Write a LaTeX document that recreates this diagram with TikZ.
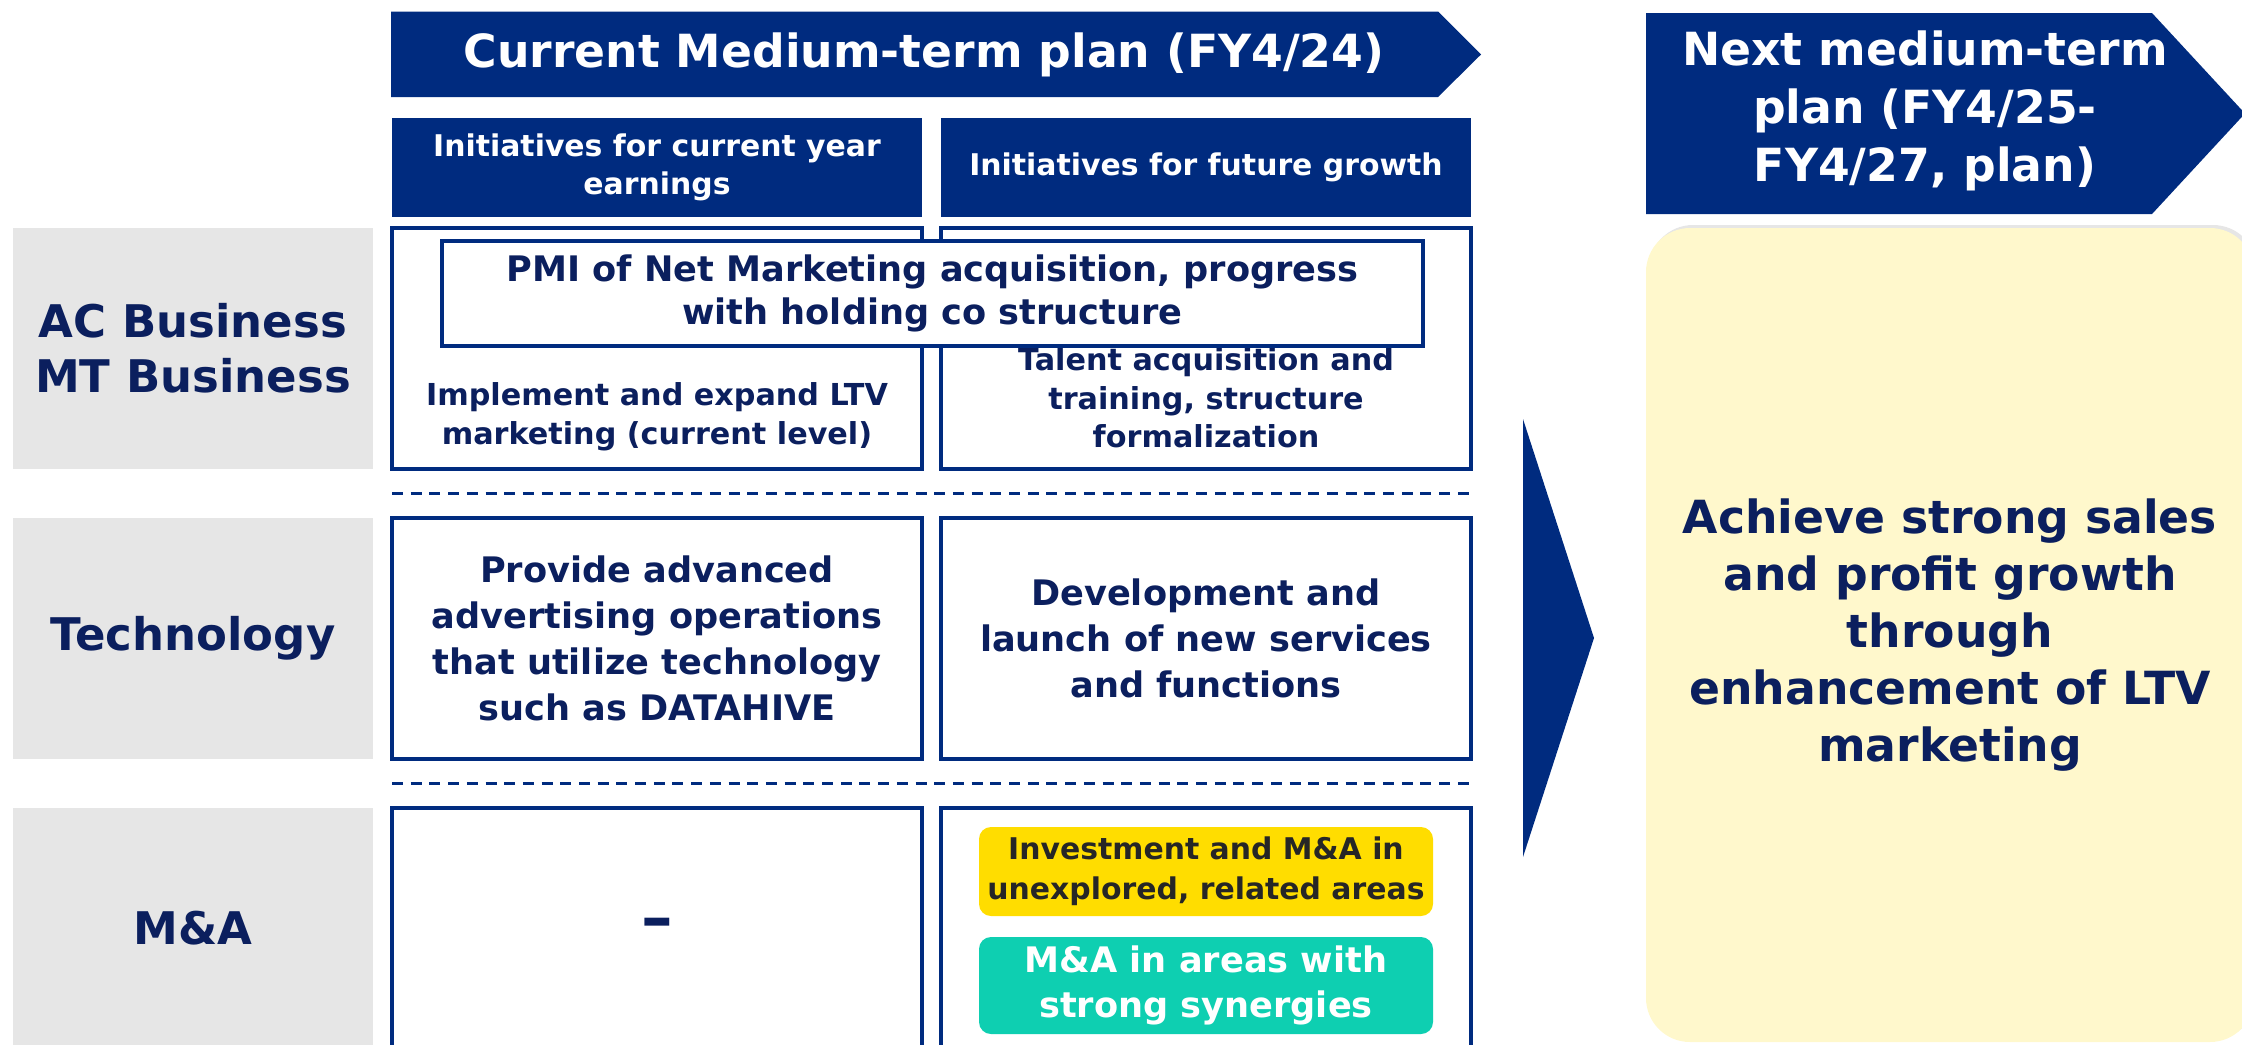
\documentclass[tikz,border=0pt]{standalone}
\usepackage{fontspec}
\setmainfont{DejaVu Sans}
\usetikzlibrary{positioning}
\usetikzlibrary{shadows}

\definecolor{navy}{HTML}{002B7F}
\definecolor{navytxt}{HTML}{0B1F5E}
\definecolor{rowgray}{HTML}{E6E6E6}
\definecolor{paleyellow}{HTML}{FFF8CC}
\definecolor{goldyellow}{HTML}{FFDD00}
\definecolor{mint}{HTML}{0ECFB1}

\begin{document}
\begin{tikzpicture}[font=\bfseries,
	rowlbl/.style={fill=rowgray,minimum width=3.60cm,minimum height=2.41cm,inner sep=0pt,outer sep=0pt,align=center,text=navytxt,font=\fontsize{12.8}{15.6}\selectfont\bfseries},
	cell/.style={draw=navy,line width=1pt,fill=white,minimum width=5.30cm,minimum height=2.41cm,inner sep=0pt,outer sep=0pt,align=center,text=navytxt,font=\fontsize{10}{13.1}\selectfont\bfseries},
	hdr/.style={fill=navy,minimum width=5.30cm,minimum height=0.99cm,inner sep=0pt,outer sep=0pt,align=center,text=white,font=\fontsize{8.5}{10.8}\selectfont\bfseries},
	smalltxt/.style={align=center,text=navytxt,inner sep=0pt,font=\fontsize{8.6}{11}\selectfont\bfseries},
	tag/.style={rounded corners=0.12cm,minimum width=4.54cm,inner sep=0pt,outer sep=0pt,align=center},
	sep/.style={navy,line width=0.85pt,dash pattern=on 0.11cm off 0.077cm}]
	\useasboundingbox (0,0) rectangle (22.42,-10.44);
	\clip (0,0) rectangle (22.42,-10.44);

	% current plan banner
	\fill[navy] (3.91,-0.115) -- (14.38,-0.115) -- (14.81,-0.545) -- (14.38,-0.97) -- (3.91,-0.97) -- cycle;
	\node [text=white,font=\fontsize{13}{16}\selectfont\bfseries] at (9.24,-0.545) (cur_plan_txt) {Current Medium-term plan (FY4/24)};

	% row labels and cells
	\node [rowlbl] at (1.93,-3.485) (row_ac) {AC Business\\MT Business};
	\node [cell,right=0.19cm of row_ac] (cur_ac) {};
	\node [cell,right=0.19cm of cur_ac] (fut_ac) {};

	\node [rowlbl,below=0.49cm of row_ac] (row_tech) {Technology};
	\node [cell,right=0.19cm of row_tech] (cur_tech) {Provide advanced\\advertising operations\\that utilize technology\\such as DATAHIVE};
	\node [cell,right=0.19cm of cur_tech] (fut_tech) {Development and\\launch of new services\\and functions};

	\node [rowlbl,below=0.49cm of row_tech] (row_ma) {M\&A};
	\node [cell,right=0.19cm of row_ma,font=\fontsize{18}{20}\selectfont\bfseries] (cur_ma) {\raisebox{-0.5ex}{–}};
	\node [cell,right=0.19cm of cur_ma] (fut_ma) {};

	% column headers
	\node [hdr,above=0.11cm of cur_ac] (hdr_cur) {Initiatives for current year\\earnings};
	\node [hdr,above=0.11cm of fut_ac] (hdr_fut) {Initiatives for future growth};

	\draw [sep] ([yshift=-0.24cm]cur_ac.south west) -- ([yshift=-0.24cm]fut_ac.south east);
	\draw [sep] ([yshift=-0.24cm]cur_tech.south west) -- ([yshift=-0.24cm]fut_tech.south east);

	% row 1 texts, PMI box on top
	\node [smalltxt] at ([yshift=0.52cm]cur_ac.south) (cur_ac_txt) {Implement and expand LTV\\marketing (current level)};
	\node [smalltxt] at ([yshift=0.71cm]fut_ac.south) (fut_ac_txt) {Talent acquisition and\\training, structure\\formalization};
	\node [draw=navy,line width=1pt,fill=white,minimum width=9.81cm,minimum height=1.05cm,inner sep=0pt,align=center,text=navytxt,font=\fontsize{10}{12.3}\selectfont\bfseries] at (9.325,-2.935) (pmi_box) {PMI of Net Marketing acquisition, progress\\with holding co structure};

	% M&A tags
	\node [tag,fill=goldyellow,minimum height=0.89cm,text=black!85,font=\fontsize{8.5}{11.4}\selectfont\bfseries,below=0.19cm of fut_ma.north] (inv_tag) {Investment and M\&A in\\unexplored, related areas};
	\node [tag,fill=mint,minimum height=0.97cm,text=white,font=\fontsize{10}{13}\selectfont\bfseries,below=0.21cm of inv_tag] (syn_tag) {M\&A in areas with\\strong synergies};

	% big arrow
	\fill[navy] (15.23,-4.19) -- (15.94,-6.38) -- (15.23,-8.57) -- cycle;

	% next plan
	\fill[navy] (16.46,-0.13) -- (21.52,-0.13) -- (22.45,-1.135) -- (21.52,-2.14) -- (16.46,-2.14) -- cycle;
	\node [text=white,align=center,font=\fontsize{13}{16.5}\selectfont\bfseries] at (19.25,-1.11) (next_plan_txt) {Next medium-term\\plan (FY4/25-\\FY4/27, plan)};
	\node [fill=paleyellow,rounded corners=0.44cm,minimum width=6.08cm,minimum height=8.14cm,inner sep=0pt,align=center,text=navytxt,font=\fontsize{13}{16.2}\selectfont\bfseries,drop shadow={opacity=0.2,shadow xshift=0.03cm,shadow yshift=0.03cm}] at (19.5,-6.35) (goal_box) {Achieve strong sales\\and profit growth\\through\\enhancement of LTV\\marketing};
\end{tikzpicture}
\end{document}
